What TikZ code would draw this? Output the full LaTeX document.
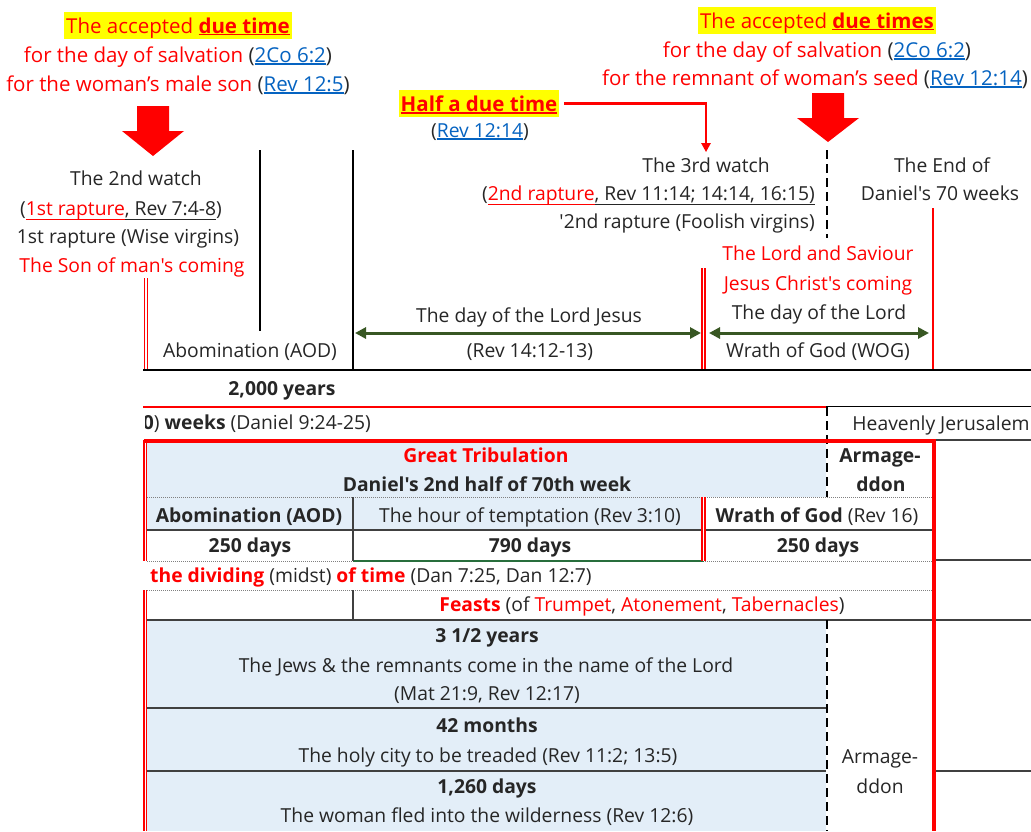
\documentclass[tikz,border=0pt]{standalone}
\usepackage{fontspec}
\setmainfont{Open Sans}[Ligatures=TeXOff]
\usetikzlibrary{arrows.meta}
\definecolor{ink}{RGB}{38,38,38}
\definecolor{linkblue}{RGB}{5,99,193}
\definecolor{dgreen}{RGB}{56,87,35}
\definecolor{tgreen}{RGB}{40,110,60}
\definecolor{cellblue}{RGB}{227,238,248}
\definecolor{hl}{RGB}{255,255,0}
\definecolor{rd}{RGB}{255,0,0}
\definecolor{gline}{RGB}{64,64,64}
\newcommand\fs{\fontsize{19.3pt}{23pt}\selectfont}
\newcommand\fb{\fontsize{20.5pt}{24pt}\selectfont}
\newsavebox\ulbox
\newcommand\ulc[3]{\sbox\ulbox{#3}\rlap{\textcolor{#1}{\rule[-#2]{\wd\ulbox}{1.1pt}}}\usebox\ulbox}
\newcommand\lnk[1]{\ulc{linkblue}{2.5pt}{\textcolor{linkblue}{#1}}}
\begin{document}
\begin{tikzpicture}[x=1pt,y=-1pt,
 every node/.style={inner sep=0pt, text=ink, font=\fs},
 txt/.style={anchor=base},
 big/.style={anchor=base, font=\fb, text=rd},
 hlbox/.style={anchor=base, font=\fb, text=rd, fill=hl, inner xsep=2pt, inner ysep=2pt, text height=19pt, text depth=4pt},
 rdtxt/.style={anchor=base, text=rd},
 bigarrow/.style={fill=rd, draw=none},
 gridline/.style={draw=gline, line width=1.6pt},
 dotline/.style={draw=gray, line width=0.9pt, dash pattern=on 1pt off 1pt},
 dashv/.style={draw=black, line width=2.4pt, dash pattern=on 9pt off 5pt},
 dblred/.style={draw=rd, line width=1.3pt, double=white, double distance=1.6pt},
 grarrow/.style={draw=dgreen, line width=3pt, {Triangle[length=11pt,width=11pt]}-{Triangle[length=11pt,width=11pt]}},
 redconn/.style={draw=rd, line width=2.5pt, -{Triangle[length=9pt,width=9pt]}, shorten <=5pt, shorten >=5pt},
 ]
\useasboundingbox (0,0) rectangle (1031,831);
\fill[white] (0,0) rectangle (1031,831);
% cell fills
\fill[cellblue] (147,443) rectangle (826,497);
\fill[cellblue] (147,497) rectangle (704,530);
\fill[cellblue] (147,620) rectangle (826,831);
% top left
\node[hlbox] (acc1) at (178,33) {The accepted \ulc{rd}{2pt}{\bfseries due time}};
\node[big] (sal1) at (178,62) {for the day of salvation \textcolor{ink}{(}\lnk{2Co 6:2}\textcolor{ink}{)}};
\node[big] (son) at (178,91) {for the woman’s male son \textcolor{ink}{(}\lnk{Rev 12:5}\textcolor{ink}{)}};
\fill[bigarrow] (137,106) -- (169,106) -- (169,131) -- (184,131) -- (153,156) -- (122,131) -- (137,131) -- cycle;
\node[txt] (w2) at (136,185) {The 2nd watch};
\node[txt] (r1) at (121,215) {(\ulc{rd}{5pt}{\textcolor{rd}{1st rapture}}\ulc{ink}{5pt}{\textcolor{ink}{, Rev 7:4-8}})};
\node[txt] (wise) at (128,243) {1st rapture (Wise virgins)};
\node[rdtxt] (son1) at (132,272) {The Son of man's coming};
\node[txt] (aod) at (250,357) {Abomination (AOD)};
\draw[black, line width=1.5pt] (260,150) -- (260,331);
\draw[black, line width=1.5pt] (353,150) -- (353,370);
\draw[dblred] (145.8,278) -- (145.8,370);
\draw[dblred] (703.5,268) -- (703.5,370);
\draw[rd, line width=2.5pt] (933,208) -- (933,370);
\draw[dashv] (827,150) -- (827,238);
% middle top
\node[hlbox, font=\fb\bfseries] (half) at (479,111) {\ulc{rd}{2.5pt}{Half a due time}};
\node[txt] (hr) at (480,137) {(\lnk{Rev 12:14})};
% top right
\node[hlbox] (acc2) at (817,28) {The accepted \ulc{rd}{2pt}{\bfseries due times}};
\node[big] (sal2) at (817,57) {for the day of salvation \textcolor{ink}{(}\lnk{2Co 6:2}\textcolor{ink}{)}};
\node[big] (seed) at (815,85) {for the remnant of woman’s seed \textcolor{ink}{(}\lnk{Rev 12:14}\textcolor{ink}{)}};
\fill[bigarrow] (812,93) -- (844,93) -- (844,118) -- (859,118) -- (828,142) -- (797,118) -- (812,118) -- cycle;
\node[txt] (w3) at (706,172) {The 3rd watch};
\draw[redconn] (half.east) -| (w3.north);
\node[txt, anchor=base east] (r2) at (815,200) {(\ulc{rd}{5pt}{\textcolor{rd}{2nd rapture}}\ulc{ink}{5pt}{\textcolor{ink}{, Rev 11:14; 14:14, 16:15)}}};
\node[txt, anchor=base east] (fool) at (815,228) {'2nd rapture (Foolish virgins)};
\node[txt] (end1) at (942,172) {The End of};
\node[txt] (end2) at (940,200) {Daniel's 70 weeks};
\node[rdtxt] (lord1) at (818,260) {The Lord and Saviour};
\node[rdtxt] (lord2) at (818,290) {Jesus Christ's coming};
\node[txt] (dayl) at (819,319) {The day of the Lord};
\node[txt] (wog) at (818,357) {Wrath of God (WOG)};
\node[txt] (dlj) at (529,322) {The day of the Lord Jesus};
\node[txt] (rev1412) at (530,357) {(Rev 14:12-13)};
\coordinate (ga1) at (355,333); \coordinate (ga2) at (701,333);
\coordinate (gb1) at (709,333); \coordinate (gb2) at (929,333);
\draw[grarrow] (ga1) -- (ga2);
\draw[grarrow] (gb1) -- (gb2);
% horizontal bands
\draw[black, line width=2.5pt] (143,370) -- (1031,370);
\node[txt, font=\fs\bfseries] (y2000) at (282,395) {2,000 years};
\draw[rd, line width=2pt] (143,406.5) -- (826,406.5);
\draw[black, line width=1.3pt] (826,406.5) -- (1031,406.5);
\begin{scope}
\clip (145,407) rectangle (826,440);
\node[txt, anchor=base east] (weeks) at (371,429) {(\textbf{70}) \textbf{weeks} (Daniel 9:24-25)};
\end{scope}
\node[txt] (hj) at (941,430) {Heavenly Jerusalem};
\draw[gridline] (935,440) -- (1031,440);
\draw[dashv] (827,407) -- (827,497);
% table grid
\draw[dotline] (147,497) -- (933,497);
\draw[gridline] (147,530) -- (933,530);
\draw[dotline] (147,561) -- (933,561);
\draw[gridline] (933,560) -- (1031,560);
\draw[tgreen, line width=2.2pt] (353,561) -- (704,561);
\draw[dotline] (147,590) -- (933,590);
\draw[gridline] (147,620) -- (1031,620);
\draw[gridline] (147,708) -- (826,708);
\draw[gridline] (147,771) -- (826,771);
\draw[gridline] (935,771) -- (1031,771);
\draw[gline, line width=1.3pt] (353,497) -- (353,561);
\draw[gline, line width=1.3pt] (353,590) -- (353,620);
\draw[dblred] (703.5,497) -- (703.5,561);
\draw[dashv] (827,620) -- (827,831);
\draw[dblred] (145.3,440) -- (145.3,561);
\draw[dblred] (145.3,590) -- (145.3,831);
\draw[rd, line width=3.5pt] (143.5,441) -- (935,441);
\draw[rd, line width=4pt] (933.5,439.3) -- (933.5,831);
% table texts
\node[rdtxt, font=\fs\bfseries] (gt) at (486,462) {Great Tribulation};
\node[txt, font=\fs\bfseries] (d2h) at (487,491) {Daniel's 2nd half of 70th week};
\node[txt, font=\fs\bfseries] (arm1a) at (880,462) {Armage-};
\node[txt, font=\fs\bfseries] (arm1b) at (881,491) {ddon};
\node[txt, font=\fs\bfseries] (aodc) at (249,522) {Abomination (AOD)};
\node[txt] (hour) at (530,522) {The hour of temptation (Rev 3:10)};
\node[txt] (wrath) at (817,522) {\textbf{Wrath of God} (Rev 16)};
\node[txt, font=\fs\bfseries] (d250a) at (250,552) {250 days};
\node[txt, font=\fs\bfseries] (d790) at (530,552) {790 days};
\node[txt, font=\fs\bfseries] (d250b) at (818,552) {250 days};
\node[txt, anchor=base west] (div) at (150,582) {\textcolor{rd}{\bfseries the dividing} (midst) \textcolor{rd}{\bfseries of time} (Dan 7:25, Dan 12:7)};
\node[txt] (feasts) at (642,611) {\textcolor{rd}{\bfseries Feasts} (of \textcolor{rd}{Trumpet}, \textcolor{rd}{Atonement}, \textcolor{rd}{Tabernacles})};
\node[txt, font=\fs\bfseries] (y35) at (487,642) {3 1/2 years};
\node[txt] (jews) at (486,672) {The Jews \& the remnants come in the name of the Lord};
\node[txt] (mat) at (487,700) {(Mat 21:9, Rev 12:17)};
\node[txt, font=\fs\bfseries] (m42) at (487,732) {42 months};
\node[txt] (holy) at (488,762) {The holy city to be treaded (Rev 11:2; 13:5)};
\node[txt, font=\fs\bfseries] (d1260) at (487,793) {1,260 days};
\node[txt] (woman) at (487,822) {The woman fled into the wilderness (Rev 12:6)};
\node[txt] (arm2a) at (880,763) {Armage-};
\node[txt] (arm2b) at (880,793) {ddon};
\end{tikzpicture}
\end{document}
